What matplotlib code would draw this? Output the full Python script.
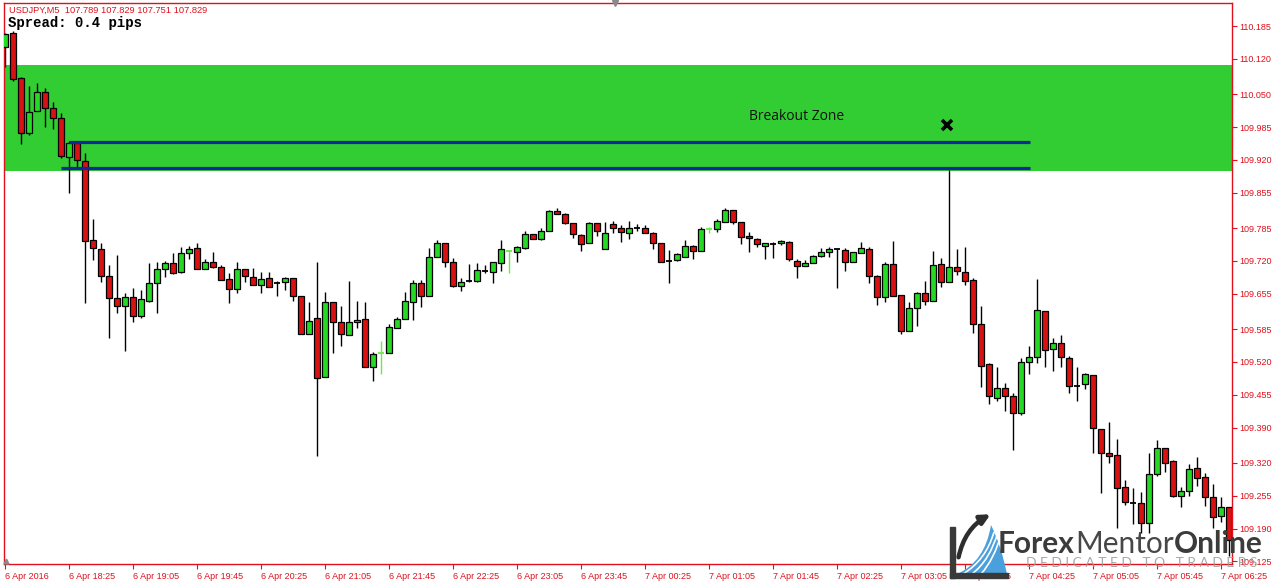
import matplotlib
matplotlib.use("Agg")
import matplotlib.pyplot as plt
from matplotlib.patches import Rectangle, FancyArrowPatch, PathPatch
from matplotlib.path import Path

# USDJPY M5 bars, 6 Apr 17:45 -> 7 Apr 06:30
opens = [
    110.143, 110.171, 110.082, 109.973, 110.017, 110.054, 110.023, 110.003, 109.926, 109.953,
    109.918, 109.761, 109.743, 109.690, 109.646, 109.631, 109.648, 109.611, 109.641, 109.676,
    109.704, 109.716, 109.698, 109.736, 109.745, 109.704, 109.718, 109.708, 109.684, 109.664,
    109.704, 109.688, 109.672, 109.686, 109.676, 109.678, 109.686, 109.650, 109.575, 109.607,
    109.490, 109.639, 109.599, 109.573, 109.599, 109.605, 109.510, 109.538, 109.538, 109.587,
    109.605, 109.639, 109.676, 109.650, 109.728, 109.755, 109.718, 109.670, 109.680, 109.680,
    109.700, 109.698, 109.716, 109.740, 109.738, 109.745, 109.773, 109.763, 109.779, 109.819,
    109.813, 109.795, 109.771, 109.755, 109.795, 109.743, 109.793, 109.785, 109.775, 109.785,
    109.785, 109.775, 109.755, 109.720, 109.722, 109.728, 109.749, 109.740, 109.783, 109.783,
    109.797, 109.821, 109.797, 109.769, 109.763, 109.749, 109.753, 109.755, 109.757, 109.720,
    109.710, 109.716, 109.730, 109.738, 109.743, 109.741, 109.718, 109.736, 109.743, 109.690,
    109.648, 109.714, 109.652, 109.581, 109.627, 109.656, 109.641, 109.714, 109.678, 109.708,
    109.698, 109.682, 109.595, 109.516, 109.448, 109.468, 109.452, 109.419, 109.520, 109.530,
    109.621, 109.545, 109.557, 109.528, 109.472, 109.476, 109.494, 109.387, 109.340, 109.336,
    109.272, 109.241, 109.241, 109.201, 109.298, 109.349, 109.324, 109.254, 109.264, 109.310,
    109.292, 109.252, 109.215, 109.233,
]
highs = [
    110.171, 110.175, 110.084, 110.066, 110.072, 110.062, 110.035, 110.013, 109.957, 109.955,
    109.934, 109.803, 109.755, 109.712, 109.732, 109.656, 109.666, 109.662, 109.716, 109.718,
    109.720, 109.736, 109.747, 109.749, 109.755, 109.724, 109.738, 109.712, 109.696, 109.718,
    109.704, 109.706, 109.698, 109.698, 109.680, 109.688, 109.686, 109.650, 109.639, 109.718,
    109.658, 109.639, 109.631, 109.680, 109.641, 109.639, 109.540, 109.561, 109.595, 109.609,
    109.658, 109.682, 109.682, 109.745, 109.761, 109.755, 109.726, 109.686, 109.714, 109.716,
    109.712, 109.718, 109.761, 109.741, 109.749, 109.779, 109.773, 109.785, 109.821, 109.825,
    109.815, 109.795, 109.773, 109.797, 109.795, 109.797, 109.799, 109.791, 109.799, 109.793,
    109.791, 109.777, 109.755, 109.741, 109.736, 109.761, 109.751, 109.787, 109.787, 109.803,
    109.825, 109.821, 109.797, 109.777, 109.765, 109.755, 109.757, 109.761, 109.759, 109.724,
    109.722, 109.732, 109.745, 109.747, 109.743, 109.745, 109.738, 109.757, 109.747, 109.692,
    109.718, 109.759, 109.652, 109.639, 109.658, 109.680, 109.740, 109.726, 109.900, 109.743,
    109.747, 109.686, 109.631, 109.518, 109.510, 109.478, 109.458, 109.528, 109.551, 109.684,
    109.621, 109.567, 109.573, 109.532, 109.510, 109.498, 109.494, 109.387, 109.401, 109.367,
    109.286, 109.270, 109.262, 109.340, 109.365, 109.349, 109.326, 109.272, 109.318, 109.332,
    109.300, 109.278, 109.252, 109.233,
]
lows = [
    110.104, 110.076, 109.951, 109.969, 110.017, 109.985, 109.981, 109.924, 109.854, 109.906,
    109.637, 109.722, 109.678, 109.567, 109.617, 109.542, 109.599, 109.607, 109.639, 109.617,
    109.688, 109.694, 109.696, 109.724, 109.704, 109.704, 109.706, 109.682, 109.637, 109.656,
    109.678, 109.672, 109.656, 109.668, 109.650, 109.662, 109.641, 109.575, 109.575, 109.334,
    109.490, 109.538, 109.551, 109.573, 109.587, 109.510, 109.482, 109.496, 109.538, 109.587,
    109.605, 109.603, 109.629, 109.650, 109.728, 109.708, 109.668, 109.660, 109.678, 109.678,
    109.696, 109.676, 109.700, 109.696, 109.718, 109.743, 109.763, 109.761, 109.779, 109.813,
    109.793, 109.765, 109.740, 109.755, 109.769, 109.743, 109.775, 109.757, 109.763, 109.779,
    109.775, 109.743, 109.718, 109.676, 109.720, 109.728, 109.724, 109.740, 109.775, 109.777,
    109.797, 109.793, 109.753, 109.738, 109.747, 109.724, 109.726, 109.751, 109.720, 109.686,
    109.710, 109.716, 109.728, 109.728, 109.666, 109.700, 109.718, 109.736, 109.676, 109.633,
    109.639, 109.650, 109.575, 109.581, 109.591, 109.633, 109.641, 109.668, 109.678, 109.692,
    109.672, 109.577, 109.470, 109.437, 109.443, 109.423, 109.345, 109.415, 109.496, 109.518,
    109.510, 109.502, 109.510, 109.458, 109.443, 109.466, 109.340, 109.260, 109.320, 109.191,
    109.237, 109.199, 109.181, 109.181, 109.294, 109.302, 109.252, 109.233, 109.254, 109.274,
    109.235, 109.191, 109.203, 109.136,
]
closes = [
    110.169, 110.080, 109.973, 110.015, 110.054, 110.023, 110.003, 109.928, 109.953, 109.920,
    109.759, 109.745, 109.690, 109.646, 109.631, 109.648, 109.611, 109.644, 109.676, 109.704,
    109.716, 109.696, 109.736, 109.743, 109.704, 109.718, 109.708, 109.682, 109.664, 109.704,
    109.690, 109.672, 109.684, 109.668, 109.676, 109.686, 109.650, 109.575, 109.601, 109.488,
    109.639, 109.599, 109.575, 109.599, 109.603, 109.510, 109.536, 109.538, 109.589, 109.605,
    109.641, 109.676, 109.650, 109.728, 109.755, 109.718, 109.670, 109.678, 109.680, 109.702,
    109.700, 109.718, 109.743, 109.740, 109.747, 109.773, 109.763, 109.779, 109.819, 109.813,
    109.795, 109.773, 109.753, 109.795, 109.779, 109.775, 109.785, 109.777, 109.785, 109.785,
    109.775, 109.755, 109.718, 109.720, 109.734, 109.749, 109.740, 109.783, 109.783, 109.799,
    109.821, 109.797, 109.767, 109.765, 109.753, 109.755, 109.753, 109.759, 109.724, 109.710,
    109.716, 109.730, 109.738, 109.743, 109.743, 109.718, 109.738, 109.745, 109.690, 109.648,
    109.714, 109.650, 109.581, 109.627, 109.656, 109.641, 109.712, 109.678, 109.708, 109.700,
    109.680, 109.595, 109.512, 109.452, 109.468, 109.452, 109.419, 109.520, 109.530, 109.623,
    109.543, 109.557, 109.530, 109.472, 109.472, 109.496, 109.389, 109.340, 109.334, 109.270,
    109.243, 109.241, 109.201, 109.298, 109.349, 109.320, 109.254, 109.264, 109.308, 109.290,
    109.252, 109.213, 109.233, 109.167,
]
lime_doji = [47, 63, 88]   # bars drawn as light green crosses

price_ticks = [110.185, 110.120, 110.050, 109.985, 109.920, 109.855, 109.785, 109.720,
               109.655, 109.585, 109.520, 109.455, 109.390, 109.320, 109.255, 109.190, 109.125]
time_labels = ["6 Apr 2016", "6 Apr 18:25", "6 Apr 19:05", "6 Apr 19:45", "6 Apr 20:25",
               "6 Apr 21:05", "6 Apr 21:45", "6 Apr 22:25", "6 Apr 23:05", "6 Apr 23:45",
               "7 Apr 00:25", "7 Apr 01:05", "7 Apr 01:45", "7 Apr 02:25", "7 Apr 03:05",
               "7 Apr 03:45", "7 Apr 04:25", "7 Apr 05:05", "7 Apr 05:45", "7 Apr 06:25"]
time_ticks = list(range(0, 160, 8))

zone_low, zone_high = 109.898, 110.108
level_upper, level_lower = 109.955, 109.904
level_start_upper, level_start_lower, level_end = 8.0, 7.0, 128.1
cross_bar, cross_price = 117.75, 109.989

RED = "#e0101c"
BULL = "#25d925"
BEAR = "#d81212"

fig = plt.figure(figsize=(12.75, 5.85), dpi=100)
ax = fig.add_axes([3.5 / 1275, 21 / 585, 1228.5 / 1275, 561 / 585])
ax.set_xlim(-0.19, 153.37)
ax.set_ylim(109.1198, 110.2306)

ax.axhspan(zone_low, zone_high, color="#32cd32", zorder=0, lw=0)

w = 0.66
for i, (o, h, l, c) in enumerate(zip(opens, highs, lows, closes)):
    if c == o:
        col = "#66ee44" if i in lime_doji else "black"
        ax.vlines(i, l, h, color=col, lw=1.0, zorder=3)
        ax.hlines(c, i - w / 2, i + w / 2, color=col, lw=1.3, zorder=3)
        continue
    ax.vlines(i, l, h, color="black", lw=1.0, zorder=2)
    ax.bar(i, abs(c - o), bottom=min(o, c), width=w,
           color=BULL if c > o else BEAR, edgecolor="black", lw=0.9, zorder=3)

ax.hlines(level_upper, level_start_upper, level_end, color="#10289a", lw=2.3, zorder=4)
ax.hlines(level_lower, level_start_lower, level_end, color="#10289a", lw=2.3, zorder=4)
ax.text(99, 110.005, "Breakout Zone", ha="center", va="center", fontsize=10,
        family="Open Sans", color="#111111", zorder=5)
ax.plot(cross_bar, cross_price, marker="x", color="black", ms=7, mew=2.6, zorder=5)

ax.yaxis.tick_right()
ax.set_yticks(price_ticks)
ax.set_yticklabels([f"{p:.3f}" for p in price_ticks])
ax.set_xticks(time_ticks)
ax.set_xticklabels(time_labels)
for lab in ax.get_xticklabels():
    lab.set_horizontalalignment("left")
ax.tick_params(axis="both", colors=RED, labelsize=6.5, length=3.5, width=0.8, pad=2)
for lab in ax.get_xticklabels() + ax.get_yticklabels():
    lab.set_family("Liberation Sans")
for sp in ax.spines.values():
    sp.set_color(RED)
    sp.set_linewidth(1.0)

fig.text(9 / 1275, 1 - 10.5 / 585, "USDJPY,M5  107.789 107.829 107.751 107.829",
         color=RED, fontsize=6.7, family="Liberation Sans", va="center")
fig.text(8 / 1275, 1 - 23 / 585, "Spread: 0.4 pips", color="black", fontsize=10,
         family="Liberation Mono", weight="bold", va="center")

# overlay in pixel space for the watermark and small chart markers
ov = fig.add_axes([0, 0, 1, 1], zorder=10)
ov.set_xlim(0, 1275)
ov.set_ylim(585, 0)
ov.axis("off")
ov.patch.set_alpha(0)
ov.plot(615, 3, marker="v", color="#8a8a8a", ms=5)
ov.plot(6, 561, marker="^", color="#8a8a8a", ms=3.5)

swoosh = Path([(957, 574), (985, 562), (991, 525), (1001, 545), (1007, 574), (957, 574)],
              [Path.MOVETO, Path.CURVE3, Path.CURVE3, Path.CURVE3, Path.CURVE3, Path.CLOSEPOLY])
ov.add_patch(PathPatch(swoosh, facecolor="#4aa0dc", edgecolor="none"))
for sx, ex in [(963, 994), (972, 998), (981, 1002)]:
    arc = Path([(sx, 574), (ex - 8, 560), (ex, 532)], [Path.MOVETO, Path.CURVE3, Path.CURVE3])
    ov.add_patch(PathPatch(arc, facecolor="none", edgecolor="white", lw=1.2))
ov.add_patch(Rectangle((950, 527), 5, 51, color="#3a3a3a"))
ov.add_patch(Rectangle((950, 573), 58, 5, color="#3a3a3a"))
ov.add_patch(FancyArrowPatch((958, 560), (993, 513), connectionstyle="arc3,rad=-0.25",
                             arrowstyle="-|>", mutation_scale=14, lw=3.2, color="#2e2e2e"))

# logo words placed end to end
renderer = fig.canvas.get_renderer()
x0 = 998
for word, wt, col in [("Forex", "bold", "#3b3b3b"), ("Mentor", "normal", "#474747"),
                      ("Online", "bold", "#3b3b3b")]:
    t = ov.text(x0, 553, word, fontsize=21.5, family="Lato", weight=wt, color=col, va="baseline")
    bb = t.get_window_extent(renderer=renderer)
    x0 += bb.width
ov.text(1026, 567, "D E D I C A T E D   T O   T R A D E R S", fontsize=10, family="Lato",
        color="#9a9a9a", alpha=0.85, va="baseline")

fig.savefig("out.png", dpi=100)
